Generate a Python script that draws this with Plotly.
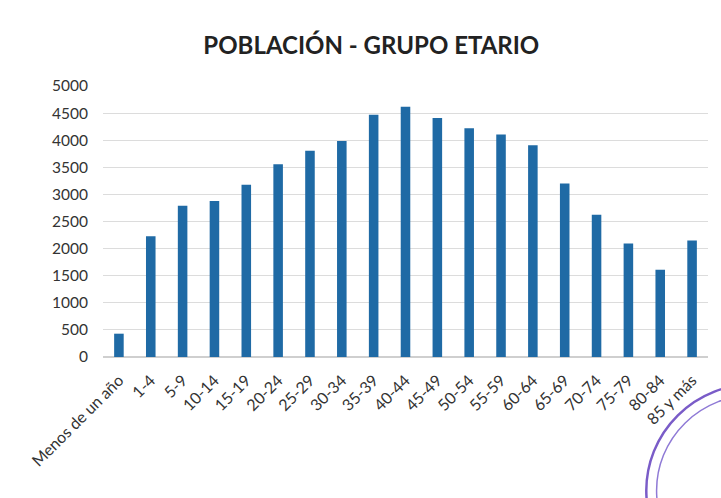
import plotly.graph_objects as go

categorias = ["Menos de un año", "1-4", "5-9", "10-14", "15-19", "20-24", "25-29",
              "30-34", "35-39", "40-44", "45-49", "50-54", "55-59", "60-64",
              "65-69", "70-74", "75-79", "80-84", "85 y más"]
poblacion = [430, 2230, 2790, 2880, 3180, 3555, 3805, 3985, 4470, 4615, 4410,
             4220, 4105, 3905, 3200, 2625, 2095, 1610, 2150]
y_ticks = [0, 500, 1000, 1500, 2000, 2500, 3000, 3500, 4000, 4500, 5000]

fig = go.Figure(go.Bar(x=categorias, y=poblacion,
                       marker=dict(color="#1f6aa5", line=dict(width=0))))

# scanned stamp in the lower-right corner (decoration)
stamp_shapes = [
    dict(type="circle", xref="paper", yref="paper", x0=0.898, x1=1.2545, y0=-0.886, y1=-0.100,
         line=dict(color="#7a5cc8", width=2.5)),
    dict(type="circle", xref="paper", yref="paper", x0=0.915, x1=1.238, y0=-0.845, y1=-0.140,
         line=dict(color="#8f7ad6", width=1.5)),
]

fig.update_layout(
    width=721, height=498,
    paper_bgcolor="white", plot_bgcolor="white",
    margin=dict(l=103, r=13, t=86, b=141),
    title=dict(text="<b>POBLACIÓN - GRUPO ETARIO</b>", x=0.515, xanchor="center",
               y=0.909, yanchor="middle",
               font=dict(family="Lato", size=24, color="#222222")),
    bargap=0.7,
    showlegend=False,
    font=dict(family="Lato", color="#333333"),
    shapes=stamp_shapes,
)
fig.update_yaxes(range=[0, 5000], tickvals=y_ticks, showgrid=True, gridcolor="#dcdcdc",
                 gridwidth=1, zeroline=True, zerolinecolor="#cfcfcf", showline=False,
                 ticks="", tickfont=dict(size=15.5, color="#333333"), ticklabelstandoff=14,
                 automargin=False)
fig.update_xaxes(tickangle=-45, tickfont=dict(size=16, color="#333333"), showline=False,
                 ticks="", automargin=False, ticklabelstandoff=10)
fig.write_html("out.html", post_script="document.body.style.margin='0';",
               config={"displayModeBar": False})
